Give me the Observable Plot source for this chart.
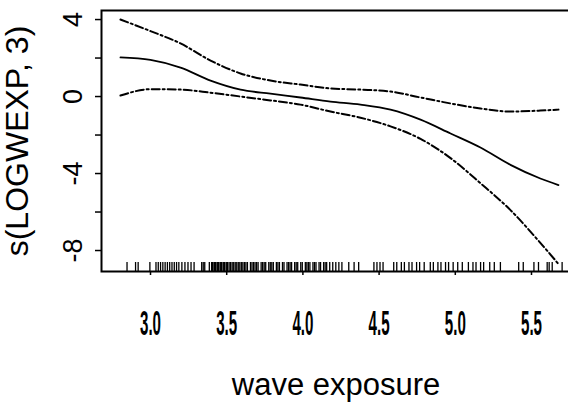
<!DOCTYPE html>
<html>
<head>
<meta charset="utf-8">
<script src="https://cdn.jsdelivr.net/npm/d3@7"></script>
<script src="https://cdn.jsdelivr.net/npm/@observablehq/plot@0.6"></script>
<style>
  html, body { margin: 0; padding: 0; background: #fff; overflow: hidden; }
  #chart { width: 568px; height: 411px; overflow: hidden; }
  #chart svg { max-width: none !important; }
</style>
</head>
<body>
<div id="chart"></div>
<script>
// Smooth term s(LOGWEXP, 3) with pointwise confidence bands
const waveX = [2.757, 2.954, 3.151, 3.348, 3.545, 3.741, 3.938, 4.135, 4.332, 4.529, 4.726, 4.923, 5.119, 5.316, 5.512, 5.631];
const fitValues = [2.03, 1.9, 1.5, 0.83, 0.36, 0.15, -0.05, -0.26, -0.42, -0.68, -1.2, -1.92, -2.65, -3.55, -4.26, -4.6];
const upperValues = [4.0, 3.4, 2.76, 1.87, 1.2, 0.83, 0.62, 0.42, 0.36, 0.26, -0.05, -0.36, -0.62, -0.78, -0.73, -0.68];
const lowerValues = [0.05, 0.38, 0.36, 0.2, 0.0, -0.2, -0.42, -0.78, -1.1, -1.55, -2.2, -3.2, -4.5, -5.9, -7.6, -8.7];

// Rug of observed wave exposure values
const rugValues = [2.80, 2.856, 2.873, 2.95,
  2.99, 3.005, 3.02, 3.035, 3.05, 3.065, 3.08, 3.095, 3.11, 3.125, 3.14, 3.16, 3.18, 3.20, 3.22, 3.24,
  3.29, 3.30, 3.31, 3.34,
  3.355, 3.36, 3.37, 3.375, 3.38, 3.39, 3.395, 3.40, 3.41, 3.415, 3.42, 3.43, 3.435, 3.44, 3.45, 3.455, 3.46,
  3.47, 3.48, 3.49, 3.50, 3.51, 3.52, 3.53, 3.54, 3.55, 3.56, 3.57, 3.58, 3.59,
  3.61, 3.62, 3.63, 3.64, 3.65, 3.66, 3.68, 3.69, 3.70, 3.71, 3.73, 3.74, 3.75, 3.76, 3.78, 3.79, 3.80, 3.82, 3.83, 3.85, 3.86, 3.87, 3.88,
  3.90, 3.91, 3.92, 3.94, 3.95, 3.97, 3.98, 3.99, 4.00, 4.02, 4.03, 4.04, 4.06, 4.07, 4.09, 4.10, 4.11, 4.13, 4.15, 4.17, 4.19, 4.21,
  4.255, 4.29, 4.32, 4.42, 4.44, 4.46, 4.48, 4.55, 4.57, 4.60, 4.62, 4.65, 4.67, 4.70, 4.72, 4.75,
  4.79, 4.81, 4.84, 4.86, 4.89, 4.91, 4.94, 4.97, 5.00, 5.04, 5.07, 5.09, 5.12, 5.14, 5.18, 5.21, 5.25,
  5.37, 5.40, 5.47, 5.50, 5.557, 5.57, 5.59, 5.655];

const xTicks = [3.0, 3.5, 4.0, 4.5, 5.0, 5.5];
const yTicks = [-8, -6, -4, -2, 0, 2, 4];
const yTickLabels = [-8, -4, 0, 4];

const curve = waveX.map((x, i) => ({x, fit: fitValues[i], upper: upperValues[i], lower: lowerValues[i]}));

const dash = "8,3,2,3";
const font = "'Liberation Sans', Arial, sans-serif";

const chart = Plot.plot({
  width: 570,
  height: 411,
  marginLeft: 101,
  marginRight: 0,
  marginTop: 10,
  marginBottom: 140,
  style: {fontFamily: font, background: "#fff", color: "#000", maxWidth: "none"},
  x: {domain: [2.6325, 5.71]},
  y: {domain: [-9.09, 4.47]},
  marks: [
    Plot.frame({stroke: "#000", strokeWidth: 2}),
    Plot.axisY({ticks: yTicks, tickFormat: d => yTickLabels.includes(d) ? String(d) : "", tickSize: 6, tickPadding: 14, tickRotate: -90, fontSize: 27, label: null, strokeWidth: 1.5}),
    Plot.axisY({ticks: yTicks, tickSize: 0, tickFormat: () => "", label: "s(LOGWEXP, 3)", labelAnchor: "center", labelArrow: "none", labelOffset: 96, fontSize: 32}),
    Plot.axisX({ticks: xTicks, tickFormat: d => d.toFixed(1), tickSize: 4, tickPadding: 35, fontSize: 35, fontWeight: "bold", dx: -7, label: null, strokeWidth: 1.5}),
    Plot.axisX({ticks: xTicks, tickSize: 0, tickFormat: () => "", label: "wave exposure", labelAnchor: "center", labelArrow: "none", labelOffset: 123, fontSize: 31}),
    Plot.tickX(rugValues, {x: d => d, insetTop: 252, stroke: "#000", strokeWidth: 1.3}),
    Plot.line(curve, {x: "x", y: "fit", curve: "monotone-x", stroke: "#000", strokeWidth: 1.8}),
    Plot.line(curve, {x: "x", y: "upper", curve: "monotone-x", stroke: "#000", strokeWidth: 2, strokeDasharray: dash}),
    Plot.line(curve, {x: "x", y: "lower", curve: "monotone-x", stroke: "#000", strokeWidth: 2, strokeDasharray: dash})
  ]
});
document.getElementById("chart").appendChild(chart);

// condense x tick labels like the reference's narrow digits
d3.select(chart).selectAll('[aria-label="x-axis tick label"] text')
  .attr("textLength", 21).attr("lengthAdjust", "spacingAndGlyphs");
</script>
</body>
</html>
